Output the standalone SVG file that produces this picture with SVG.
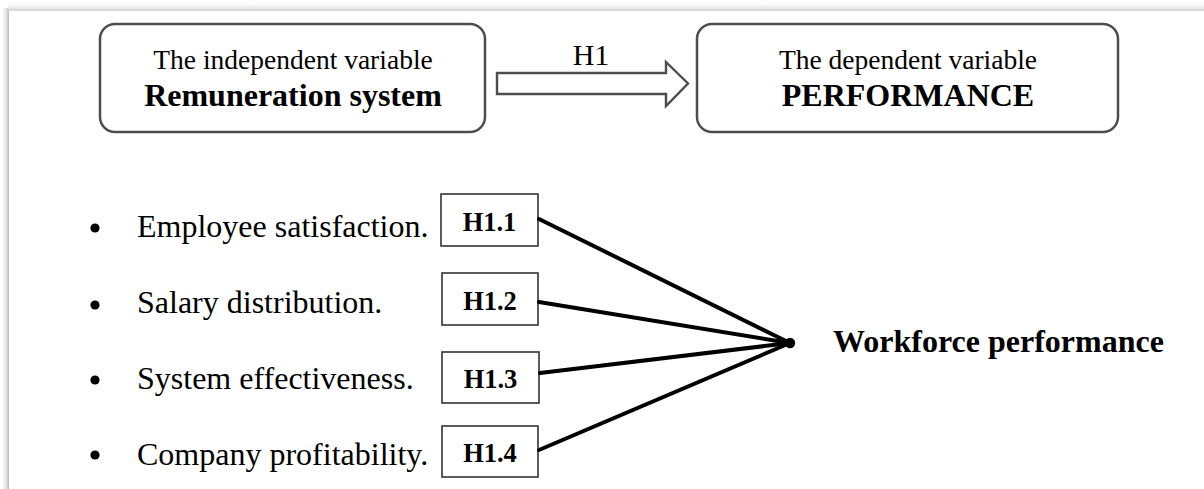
<svg xmlns="http://www.w3.org/2000/svg" width="1204" height="489" viewBox="0 0 1204 489">
  <defs>
    <linearGradient id="shadeLeft" x1="0" y1="0" x2="1" y2="0">
      <stop offset="0" stop-color="#ffffff"/>
      <stop offset="0.5" stop-color="#e8e8e8"/>
      <stop offset="1" stop-color="#bdbdbd"/>
    </linearGradient>
    <linearGradient id="shadeTop" x1="0" y1="0" x2="0" y2="1">
      <stop offset="0" stop-color="#ffffff"/>
      <stop offset="0.5" stop-color="#f0f0f0"/>
      <stop offset="1" stop-color="#d2d2d2"/>
    </linearGradient>
    <style>
      .serif { font-family: "Liberation Serif", "Times New Roman", serif; fill: #000; }
      .var-box { fill: #fff; stroke: #4d4d4d; stroke-width: 2.5; }
      .hyp-box { fill: #fff; stroke: #333; stroke-width: 1.6; }
      .link { stroke: #000; stroke-width: 4; fill: none; stroke-linecap: round; }
      .arrow { fill: #fff; stroke: #4d4d4d; stroke-width: 2.4; stroke-linejoin: miter; }
    </style>
  </defs>

  <!-- page background with soft edge shadow -->
  <rect x="0" y="0" width="1204" height="489" fill="#ffffff"/>
  <rect x="2" y="8" width="7" height="481" fill="url(#shadeLeft)"/>
  <rect x="8" y="3" width="1196" height="8" fill="url(#shadeTop)"/>

  <!-- independent variable -->
  <g id="node-independent">
    <rect class="var-box" x="100" y="24" width="385" height="108" rx="15" ry="15"/>
    <text class="serif" x="293" y="69" font-size="27.5" text-anchor="middle">The independent variable</text>
    <text class="serif" x="293" y="106" font-size="32" font-weight="bold" text-anchor="middle">Remuneration system</text>
  </g>

  <!-- dependent variable -->
  <g id="node-dependent">
    <rect class="var-box" x="697" y="24" width="421" height="108" rx="15" ry="15"/>
    <text class="serif" x="908" y="69" font-size="27.5" text-anchor="middle">The dependent variable</text>
    <text class="serif" x="908" y="106" font-size="32" font-weight="bold" text-anchor="middle">PERFORMANCE</text>
  </g>

  <!-- H1 block arrow -->
  <g id="node-h1">
    <polygon class="arrow" points="497,73 666,73 666,62 688,83.5 666,106 666,94 497,94"/>
    <text class="serif" x="591" y="65" font-size="30" text-anchor="middle">H1</text>
  </g>

  <!-- factor list -->
  <g id="node-factors">
    <circle cx="95" cy="228" r="4.6" fill="#000"/>
    <text class="serif" x="137" y="237" font-size="32">Employee satisfaction.</text>
    <circle cx="95" cy="305" r="4.6" fill="#000"/>
    <text class="serif" x="137" y="313" font-size="32">Salary distribution.</text>
    <circle cx="95" cy="380" r="4.6" fill="#000"/>
    <text class="serif" x="137" y="389" font-size="32">System effectiveness.</text>
    <circle cx="95" cy="455" r="4.6" fill="#000"/>
    <text class="serif" x="137" y="465" font-size="32">Company profitability.</text>
  </g>

  <!-- hypothesis labels -->
  <g id="node-h1-1">
    <rect class="hyp-box" x="441" y="194" width="97" height="52"/>
    <text class="serif" x="489.5" y="231" font-size="26.5" font-weight="bold" text-anchor="middle">H1.1</text>
  </g>
  <g id="node-h1-2">
    <rect class="hyp-box" x="442" y="273" width="96" height="52"/>
    <text class="serif" x="490" y="310" font-size="26.5" font-weight="bold" text-anchor="middle">H1.2</text>
  </g>
  <g id="node-h1-3">
    <rect class="hyp-box" x="442" y="352" width="97" height="51"/>
    <text class="serif" x="490.5" y="388" font-size="26.5" font-weight="bold" text-anchor="middle">H1.3</text>
  </g>
  <g id="node-h1-4">
    <rect class="hyp-box" x="442" y="426" width="96" height="51"/>
    <text class="serif" x="490" y="462" font-size="26.5" font-weight="bold" text-anchor="middle">H1.4</text>
  </g>

  <!-- outcome -->
  <g id="node-workforce">
    <circle cx="790" cy="343" r="5.2" fill="#000"/>
    <text class="serif" x="833" y="352" font-size="32" font-weight="bold">Workforce performance</text>
  </g>

  <!-- connectors -->
  <g id="connectors">
    <line class="link" x1="539" y1="219" x2="790" y2="343"/>
    <line class="link" x1="539" y1="302" x2="790" y2="343"/>
    <line class="link" x1="540" y1="373" x2="790" y2="343"/>
    <line class="link" x1="539" y1="450" x2="790" y2="343"/>
  </g>
</svg>
